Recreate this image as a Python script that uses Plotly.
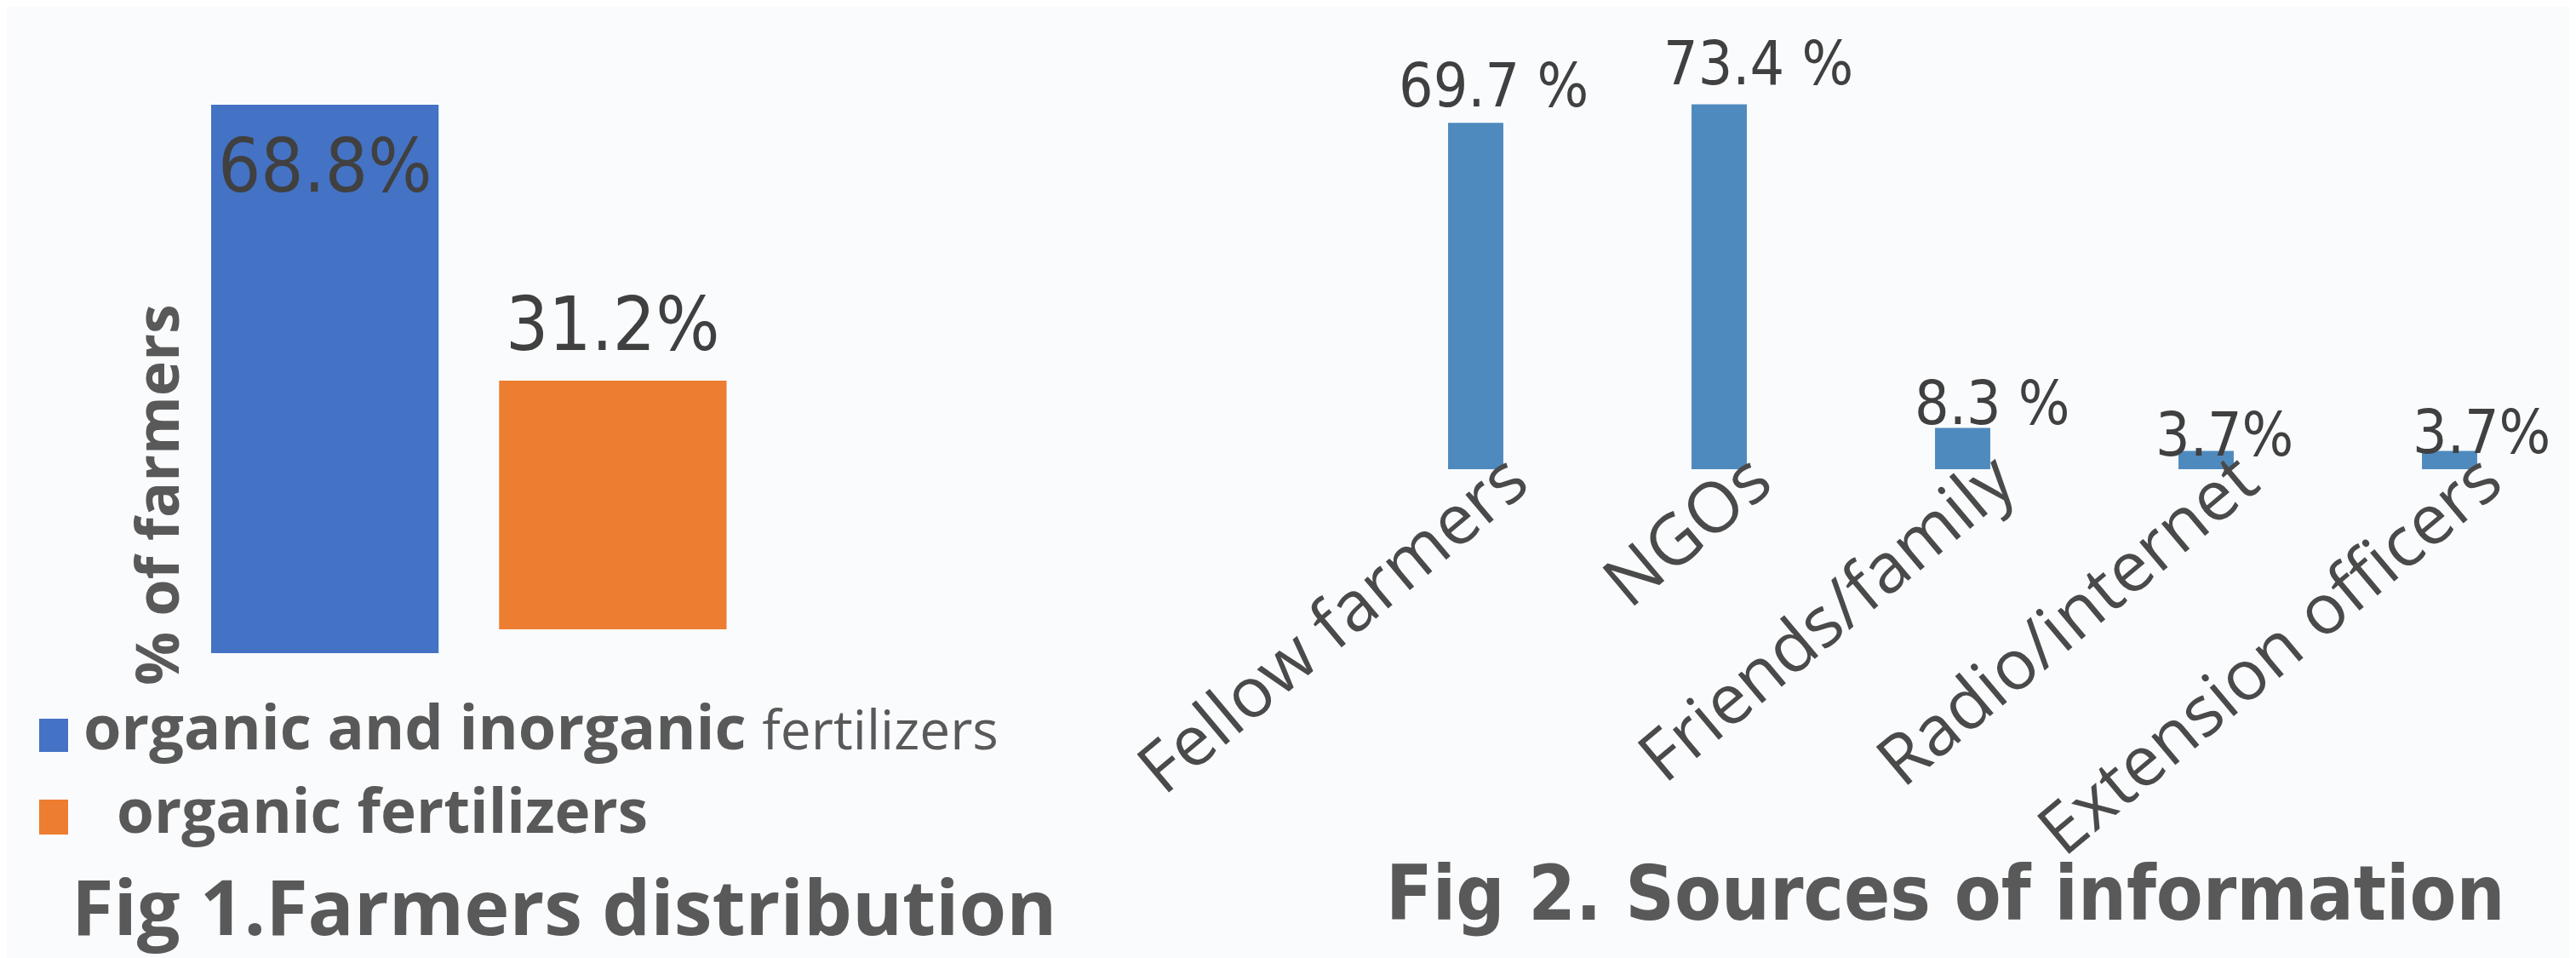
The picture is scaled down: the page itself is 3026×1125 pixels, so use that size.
import plotly.graph_objects as go

# page is 3026x1125; body has an 8px margin, so the figure is drawn 8px in
OFF = 8
WF, HF = 3026 - OFF, 1125 - OFF

# ---------------- data ----------------
fig1_categories = ["organic and inorganic fertilizers", "organic fertilizers"]
fig1_values = [68.8, 31.2]
fig1_y_title = "% of farmers"
fig1_title = "Fig 1.Farmers distribution"

fig2_categories = ["Fellow farmers", "NGOs", "Friends/family", "Radio/internet", "Extension officers"]
fig2_values = [69.7, 73.4, 8.3, 3.7, 3.7]
fig2_pct_sep = [" ", " ", " ", "", ""]
fig2_title = "Fig 2. Sources of information"

# ---------------- styles ----------------
BG = "#fafbfd"
BLUE = "#4472C4"
ORANGE = "#ED7D31"
BAR2 = "#4F8ABE"
GREY = "#595959"
DARK = "#404040"
HUM = "'Open Sans', Lato, sans-serif"
NARROW = "'DejaVu Sans Condensed', 'Liberation Sans Narrow', sans-serif"


def px(x):
    return (x - OFF) / WF


def py(y):
    return 1 - (y - OFF) / HF


fig = go.Figure()

# Fig 1 bars (each on its own axis pair)
fig.add_trace(go.Bar(x=[fig1_categories[0]], y=[fig1_values[0]], marker_color=BLUE,
                     marker_line_width=0, xaxis="x", yaxis="y",
                     showlegend=False, hoverinfo="skip"))
fig.add_trace(go.Bar(x=[fig1_categories[1]], y=[fig1_values[1]], marker_color=ORANGE,
                     marker_line_width=0, xaxis="x3", yaxis="y3",
                     showlegend=False, hoverinfo="skip"))

# Fig 2 bars
fig.add_trace(go.Bar(x=fig2_categories, y=fig2_values, marker_color=BAR2,
                     marker_line_width=0, width=0.227, xaxis="x2", yaxis="y2",
                     showlegend=False, hoverinfo="skip"))

hidden = dict(visible=False, showgrid=False, zeroline=False, fixedrange=True, automargin=False)

fig.update_layout(
    template="none",
    width=WF, height=HF,
    margin=dict(l=0, r=0, t=0, b=0, pad=0, autoexpand=False),
    paper_bgcolor=BG, plot_bgcolor="rgba(0,0,0,0)",
    bargap=0.21,
    showlegend=False,
    xaxis=dict(domain=[px(212.5), px(889)], anchor="y", type="category",
               categoryorder="array", categoryarray=fig1_categories,
               range=[-0.5, 1.5], **hidden),
    yaxis=dict(domain=[py(767), py(65)], anchor="x", range=[0, 75], **hidden),
    xaxis3=dict(domain=[px(212.5), px(889)], anchor="y3", type="category",
                categoryorder="array", categoryarray=fig1_categories,
                range=[-0.5, 1.5], **hidden),
    yaxis3=dict(domain=[py(739), py(37)], anchor="x3", range=[0, 75], **hidden),
    xaxis2=dict(domain=[px(1590.5), px(3020.5)], anchor="y2", type="category",
                categoryorder="array", categoryarray=fig2_categories,
                range=[-0.5, 4.5], showgrid=False, zeroline=False, showline=False,
                ticks="", tickangle=-40, ticklabelshift=40, ticklabelstandoff=-52,
                automargin=False,
                tickfont=dict(family=HUM, size=82, color="#4a4a4a"), fixedrange=True),
    yaxis2=dict(domain=[py(551), py(84)], anchor="x2", range=[0, 80], **hidden),
)

annotations = []
# Fig 1 value labels
annotations.append(dict(x=fig1_categories[0], y=fig1_values[0], xref="x", yref="y",
                        text=f"{fig1_values[0]}%", showarrow=False, xanchor="center",
                        yanchor="top", yshift=-18,
                        font=dict(family=NARROW, size=88, color=DARK)))
annotations.append(dict(x=fig1_categories[1], y=fig1_values[1], xref="x3", yref="y3",
                        text=f"{fig1_values[1]}%", showarrow=False, xanchor="center",
                        yanchor="bottom", yshift=13,
                        font=dict(family=NARROW, size=88, color=DARK)))

# Fig 2 value labels
f2_xshift = [21, 46, 35, 21, 37]
f2_yshift = [0, 5, -14, -25, -22]
for cat, v, sep, xs, ys in zip(fig2_categories, fig2_values, fig2_pct_sep, f2_xshift, f2_yshift):
    annotations.append(dict(x=cat, y=v, xref="x2", yref="y2", text=f"{v}{sep}%",
                            showarrow=False, xanchor="center", yanchor="bottom",
                            xshift=xs, yshift=ys,
                            font=dict(family=NARROW, size=71, color=DARK)))

# Fig 1 y title
annotations.append(dict(x=px(183), y=py(581), xref="paper", yref="paper",
                        xanchor="center", yanchor="middle",
                        text=f"<b>{fig1_y_title}</b>", textangle=-90, showarrow=False,
                        font=dict(family=HUM, size=70, color=GREY)))

# Fig 1 legend
annotations.append(dict(x=px(96), y=py(852), xref="paper", yref="paper",
                        xanchor="left", yanchor="middle",
                        text="<b>organic and inorganic</b> <span style='font-size:64px'>fertilizers</span>",
                        showarrow=False, font=dict(family=HUM, size=72, color=GREY)))
annotations.append(dict(x=px(135), y=py(950), xref="paper", yref="paper",
                        xanchor="left", yanchor="middle",
                        text="<b>organic fertilizers</b>",
                        showarrow=False, font=dict(family=HUM, size=71, color=GREY)))

# Titles
annotations.append(dict(x=px(662), y=py(1063), xref="paper", yref="paper",
                        xanchor="center", yanchor="middle",
                        text=f"<b>{fig1_title}</b>", showarrow=False,
                        font=dict(family=HUM, size=90, color=GREY)))
annotations.append(dict(x=px(2285), y=py(1049), xref="paper", yref="paper",
                        xanchor="center", yanchor="middle",
                        text=f"<b>{fig2_title}</b>", showarrow=False,
                        font=dict(family=NARROW, size=89, color=GREY)))

fig.update_layout(annotations=annotations)

# legend swatches
fig.add_shape(type="rect", xref="paper", yref="paper", x0=px(46), x1=px(80),
              y0=py(883), y1=py(844), fillcolor=BLUE, line_width=0)
fig.add_shape(type="rect", xref="paper", yref="paper", x0=px(46), x1=px(80),
              y0=py(980), y1=py(939), fillcolor=ORANGE, line_width=0)

fig.write_html("out.html")
